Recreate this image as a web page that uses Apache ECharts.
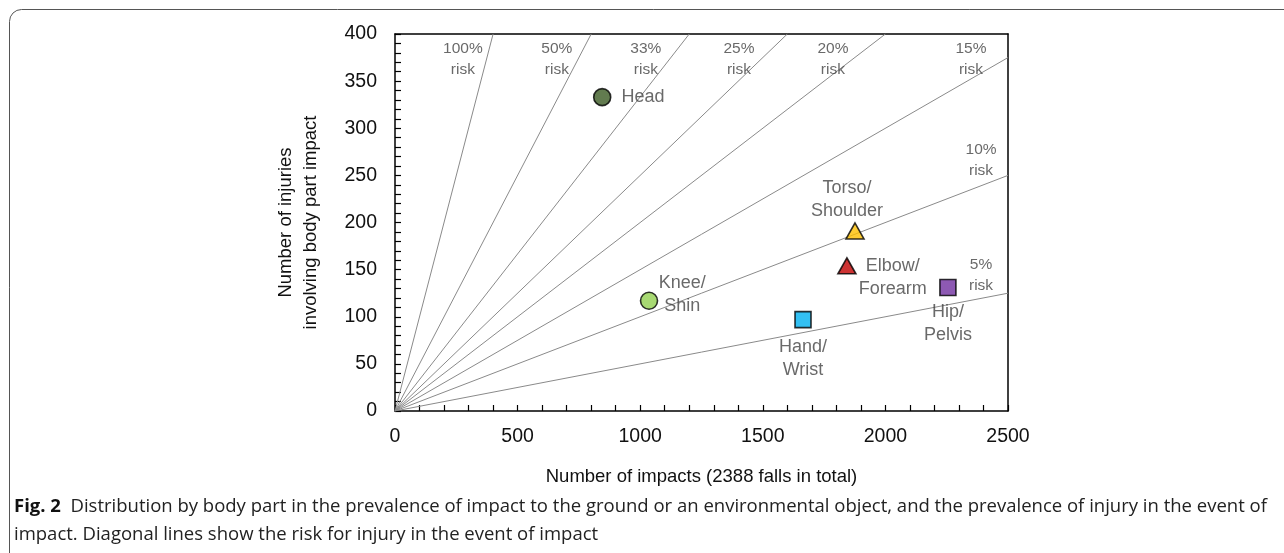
<!DOCTYPE html>
<html><head><meta charset="utf-8">
<script src="https://cdn.jsdelivr.net/npm/echarts@6/dist/echarts.min.js"></script>
<style>html,body{margin:0;padding:0;background:#fff}#c{width:1284px;height:553px}</style>
</head><body><div id="c"></div>
<script>
const bodyParts = ['Head', 'Knee/\nShin', 'Hand/\nWrist', 'Elbow/\nForearm', 'Torso/\nShoulder', 'Hip/\nPelvis'];
const impacts = [845, 1036, 1664, 1843, 1876, 2255];
const injuries = [333, 117, 97, 154, 191, 131];
const riskRatios = [1, 0.5, 1/3, 0.25, 0.2, 0.15, 0.1, 0.05];
const riskLabels = ['100%\nrisk', '50%\nrisk', '33%\nrisk', '25%\nrisk', '20%\nrisk', '15%\nrisk', '10%\nrisk', '5%\nrisk'];
const riskLabelX = [277, 660, 1023, 1403, 1786, 2349, 2390, 2390];
const riskLabelY = [373, 373, 373, 373, 373, 373, 266, 144];
const xMax = 2500, yMax = 400;

const colors = ['#3b5a23', '#92d050', '#00b0f0', '#c00000', '#ffc000', '#7030a0'];
const symbols = ['circle', 'circle', 'rect', 'triangle', 'triangle', 'rect'];
const sizes = [17, 17, 16, 17, 17, 16];
const labelCfg = [
  {position: 'right', distance: 10, align: 'left', offset: [0, 0]},
  {position: 'right', distance: 4, align: 'center', offset: [20, -6]},
  {position: 'bottom', distance: 8, align: 'center', offset: [0, -1]},
  {position: 'right', distance: 4, align: 'center', offset: [32, 12]},
  {position: 'top', distance: 2, align: 'center', offset: [-8, 2]},
  {position: 'bottom', distance: 4, align: 'center', offset: [0, 0]}
];

const FONT = '"Liberation Sans", Arial, sans-serif';
const chart = echarts.init(document.getElementById('c'));

const series = [];
riskRatios.forEach((r, i) => {
  const xe = Math.min(xMax, yMax / r);
  series.push({
    type: 'line', data: [[0, 0], [xe, r * xe]], symbol: 'none', silent: true,
    lineStyle: {color: '#8a8a8a', width: 1}, z: 1, animation: false
  });
});
series.push({
  type: 'scatter', silent: true, symbolSize: 0, z: 2, animation: false,
  data: riskLabels.map((t, i) => ({value: [riskLabelX[i], riskLabelY[i]], name: t})),
  label: {show: true, position: 'inside', formatter: p => p.name, color: '#444', fontSize: 15.5,
    fontFamily: FONT, lineHeight: 21, align: 'center', verticalAlign: 'middle'}
});
bodyParts.forEach((n, i) => {
  const lc = labelCfg[i];
  series.push({
    type: 'scatter', animation: false, z: 5,
    data: [{value: [impacts[i], injuries[i]], name: n}],
    symbol: symbols[i], symbolSize: symbols[i] === 'triangle' ? [18, 16] : sizes[i],
    itemStyle: {color: colors[i], borderColor: '#000', borderWidth: 1.6},
    label: {show: true, formatter: p => p.name, position: lc.position, distance: lc.distance,
      align: lc.align, offset: lc.offset, color: '#444', fontSize: 18, fontFamily: FONT, lineHeight: 23}
  });
});

chart.setOption({
  animation: false,
  grid: {left: 395, right: 276, top: 34, bottom: 142, containLabel: false},
  xAxis: [{
    type: 'value', min: 0, max: xMax, interval: 500,
    axisLine: {show: true, lineStyle: {color: '#000', width: 1.5}},
    axisTick: {show: true, inside: true, length: 6, lineStyle: {color: '#000', width: 1.2}},
    minorTick: {show: true, splitNumber: 5, length: 6, lineStyle: {color: '#000', width: 1.2}},
    splitLine: {show: false},
    axisLabel: {color: '#111', fontSize: 19.5, fontFamily: FONT, margin: 16, formatter: v => String(v)},
    name: 'Number of impacts (2388 falls in total)', nameLocation: 'middle', nameGap: 56,
    nameTextStyle: {color: '#111', fontSize: 18.5, fontFamily: FONT}
  }, {
    type: 'value', position: 'top', min: 0, max: xMax,
    axisLine: {show: true, onZero: false, lineStyle: {color: '#000', width: 1.5}},
    axisTick: {show: false}, axisLabel: {show: false}, splitLine: {show: false}
  }],
  yAxis: [{
    type: 'value', min: 0, max: yMax, interval: 50,
    axisLine: {show: true, lineStyle: {color: '#000', width: 1.5}},
    axisTick: {show: true, inside: true, length: 6, lineStyle: {color: '#000', width: 1.2}},
    minorTick: {show: true, splitNumber: 5, length: 6, lineStyle: {color: '#000', width: 1.2}},
    splitLine: {show: false},
    axisLabel: {color: '#111', fontSize: 19.5, fontFamily: FONT, margin: 18},
    name: 'Number of injuries\ninvolving body part impact', nameLocation: 'middle', nameGap: 72,
    nameTextStyle: {color: '#111', fontSize: 18.5, fontFamily: FONT, lineHeight: 25}
  }, {
    type: 'value', position: 'right', min: 0, max: yMax,
    axisLine: {show: true, onZero: false, lineStyle: {color: '#000', width: 1.5}},
    axisTick: {show: false}, axisLabel: {show: false}, splitLine: {show: false}
  }],
  series: series,
  graphic: [
    {type: 'rect', shape: {x: 9.5, y: 9.5, width: 1300, height: 600, r: 12}, silent: true,
      style: {fill: 'none', stroke: '#555', lineWidth: 1}, z: -1},
    {type: 'text', left: 14, top: 493, silent: true,
      style: {text: '{b|Fig. 2}  Distribution by body part in the prevalence of impact to the ground or an environmental object, and the prevalence of injury in the event of\nimpact. Diagonal lines show the risk for injury in the event of impact',
        rich: {b: {fontWeight: 'bold', fontSize: 18.5, fontFamily: '"Open Sans", sans-serif', fill: '#111', lineHeight: 28}},
        fontSize: 18.5, fontFamily: '"Open Sans", sans-serif', fill: '#222', lineHeight: 28}}
  ]
});
</script></body></html>
